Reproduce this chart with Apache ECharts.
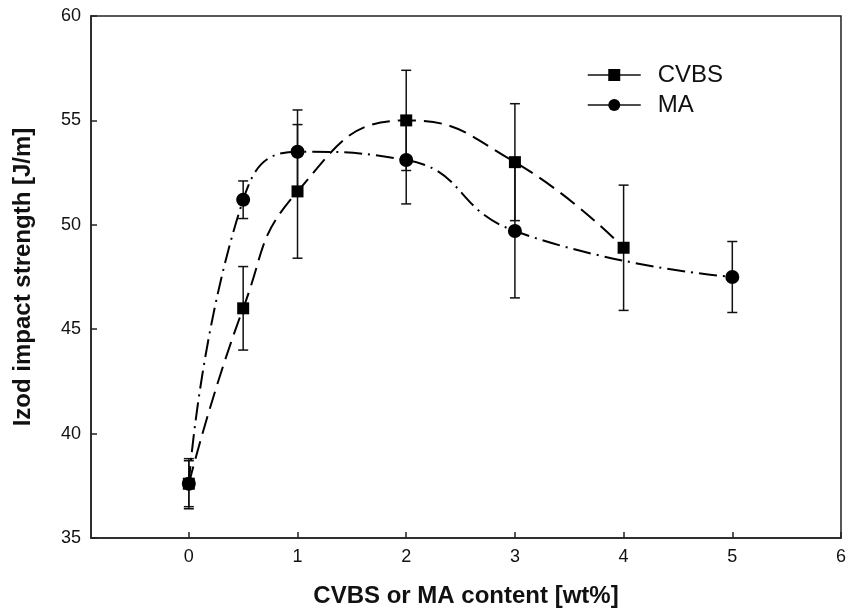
<!DOCTYPE html>
<html>
<head>
<meta charset="utf-8">
<script src="https://cdn.jsdelivr.net/npm/echarts@6/dist/echarts.min.js"></script>
<style>
  html, body { margin: 0; padding: 0; background: #fff; }
  #main { width: 849px; height: 615px; }
</style>
</head>
<body>
<div id="main"></div>
<script>
// data
var xTicks = [0, 1, 2, 3, 4, 5, 6];

var cvbsX = [0, 0.5, 1, 2, 3, 4];
var cvbsMean = [37.6, 46.0, 51.6, 55.0, 53.0, 48.9];
var cvbsErr = [1.2, 2.0, 3.2, 2.4, 2.8, 3.0];

var maX = [0, 0.5, 1, 2, 3, 5];
var maMean = [37.6, 51.2, 53.5, 53.1, 49.7, 47.5];
var maErr = [1.1, 0.9, 2.0, 2.1, 3.2, 1.7];

var FONT = '"Liberation Sans", Arial, sans-serif';

function pairs(xs, ys) {
  return xs.map(function (x, i) { return [x, ys[i]]; });
}
function bars(xs, ys, es) {
  return xs.map(function (x, i) { return [x, ys[i] - es[i], ys[i] + es[i]]; });
}

// error bar: vertical line with caps
function errorBar(params, api) {
  var x = api.value(0);
  var lo = api.coord([x, api.value(1)]);
  var hi = api.coord([x, api.value(2)]);
  var half = 5;
  var style = { stroke: '#111', lineWidth: 1.5 };
  return {
    type: 'group',
    children: [
      { type: 'line', shape: { x1: hi[0], y1: hi[1], x2: lo[0], y2: lo[1] }, style: style },
      { type: 'line', shape: { x1: hi[0] - half, y1: hi[1], x2: hi[0] + half, y2: hi[1] }, style: style },
      { type: 'line', shape: { x1: lo[0] - half, y1: lo[1], x2: lo[0] + half, y2: lo[1] }, style: style }
    ]
  };
}

var myChart = echarts.init(document.getElementById('main'));

var option = {
  backgroundColor: '#fff',
  animation: false,
  grid: {
    left: 91, right: 7, top: 16, bottom: 77,
    show: true, borderColor: '#222', borderWidth: 1.5, backgroundColor: 'transparent'
  },
  legend: {
    left: 582, top: 58, orient: 'vertical',
    itemWidth: 53, itemHeight: 15, itemGap: 6,
    data: ['CVBS', 'MA'],
    lineStyle: { type: 'solid', width: 1.5, color: '#111' },
    textStyle: { fontFamily: FONT, fontSize: 24, color: '#111', padding: [0, 0, 0, 12] }
  },
  xAxis: {
    type: 'value', min: -0.9, max: 6,
    name: 'CVBS or MA content [wt%]',
    nameLocation: 'middle', nameGap: 46,
    nameTextStyle: { fontFamily: FONT, fontSize: 24, fontWeight: 'bold', color: '#111' },
    axisLine: { show: true, onZero: false, lineStyle: { color: '#222', width: 1.5 } },
    axisTick: { show: true, inside: true, length: 6, customValues: xTicks, lineStyle: { color: '#222', width: 1.5 } },
    axisLabel: { customValues: xTicks, fontFamily: FONT, fontSize: 18, color: '#111', margin: 10 },
    splitLine: { show: false }
  },
  yAxis: {
    type: 'value', min: 35, max: 60, interval: 5,
    name: 'Izod impact strength [J/m]',
    nameLocation: 'middle', nameGap: 56, nameRotate: 90,
    nameTextStyle: { fontFamily: FONT, fontSize: 24, fontWeight: 'bold', color: '#111' },
    axisLine: { show: true, onZero: false, lineStyle: { color: '#222', width: 1.5 } },
    axisTick: { show: true, inside: true, length: 6, lineStyle: { color: '#222', width: 1.5 } },
    axisLabel: { fontFamily: FONT, fontSize: 18, color: '#111', margin: 10 },
    splitLine: { show: false }
  },
  series: [
    {
      name: 'CVBS err', type: 'custom', renderItem: errorBar,
      data: bars(cvbsX, cvbsMean, cvbsErr), encode: { x: 0, y: [1, 2] }, z: 3, silent: true
    },
    {
      name: 'MA err', type: 'custom', renderItem: errorBar,
      data: bars(maX, maMean, maErr), encode: { x: 0, y: [1, 2] }, z: 3, silent: true
    },
    {
      name: 'CVBS', type: 'line', smooth: 0.5,
      data: pairs(cvbsX, cvbsMean),
      symbol: 'rect', symbolSize: 12,
      itemStyle: { color: '#000' },
      lineStyle: { color: '#000', width: 2, type: [18, 8] },
      z: 4
    },
    {
      name: 'MA', type: 'line', smooth: 0.5,
      data: pairs(maX, maMean),
      symbol: 'circle', symbolSize: 14,
      itemStyle: { color: '#000' },
      lineStyle: { color: '#000', width: 2, type: [18, 6, 2, 6] },
      z: 5
    }
  ]
};

myChart.setOption(option);
</script>
</body>
</html>
